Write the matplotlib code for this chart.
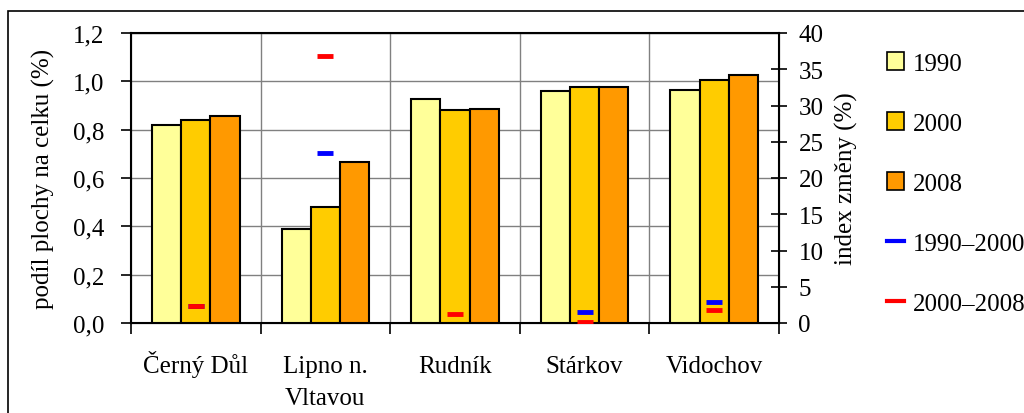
import matplotlib.pyplot as plt
import numpy as np
from matplotlib.patches import Patch, Rectangle
from matplotlib.lines import Line2D

plt.rcParams['font.family'] = ['Liberation Serif', 'DejaVu Serif']

categories = ['Černý Důl', 'Lipno n.\nVltavou', 'Rudník', 'Stárkov', 'Vidochov']
share_1990 = [0.82, 0.39, 0.925, 0.96, 0.965]
share_2000 = [0.84, 0.48, 0.88, 0.975, 1.005]
share_2008 = [0.855, 0.665, 0.885, 0.975, 1.025]
# index zmeny (%) - right axis
idx_1990_2000 = [2.3, 23.4, np.nan, 1.5, 2.9]
idx_2000_2008 = [2.3, 36.8, 1.2, 0.1, 1.8]

c1990 = '#FFFF99'
c2000 = '#FFCC00'
c2008 = '#FF9900'
fs = 18

fig = plt.figure(figsize=(10.24, 4.14), dpi=100)
# outer frame (only top and left visible in the crop)
fig.patches.append(Rectangle((8 / 1024, -0.1), 1.2, 1 - 12 / 414 + 0.1,
                             transform=fig.transFigure, fill=False,
                             edgecolor='black', linewidth=1.2))

ax = fig.add_axes([131 / 1024, 1 - 324 / 414, (779 - 131) / 1024, (324 - 34) / 414])
x = np.arange(len(categories))
w = 0.225
ax.bar(x - w, share_1990, w, color=c1990, edgecolor='black', linewidth=1.5, zorder=3)
ax.bar(x, share_2000, w, color=c2000, edgecolor='black', linewidth=1.5, zorder=3)
ax.bar(x + w, share_2008, w, color=c2008, edgecolor='black', linewidth=1.5, zorder=3)

ax.set_xlim(-0.5, len(categories) - 0.5)
ax.set_ylim(0, 1.2)
yt = np.arange(0, 1.21, 0.2)
ax.set_yticks(yt)
ax.set_yticklabels([('%.1f' % v).replace('.', ',') for v in yt])
ax.yaxis.grid(True, color='#808080', linewidth=1, zorder=0)
for b in np.arange(0.5, len(categories) - 0.5, 1):
    ax.axvline(b, color='#808080', linewidth=1, zorder=0)
ax.set_xticks(np.arange(-0.5, len(categories), 1))
ax.set_xticklabels([])
# category names, line by line on baselines
for i, lab in enumerate(categories):
    for j, line in enumerate(lab.split('\n')):
        ax.text(i, -0.17 - j * 0.11, line, transform=ax.get_xaxis_transform(),
                ha='center', va='baseline', fontsize=fs)
ax.tick_params(axis='x', which='major', length=8, width=1.2, direction='out')
ax.tick_params(axis='y', length=7, width=1.2, direction='out', labelsize=fs, pad=12)
ax.set_ylabel('podíl plochy na celku (%)', fontsize=fs, labelpad=13)
for s in ax.spines.values():
    s.set_linewidth(1.5)

ax2 = ax.twinx()
ax2.set_ylim(0, 40)
ax2.set_yticks(np.arange(0, 41, 5))
ax2.tick_params(axis='y', length=12, width=1.2, direction='inout', labelsize=fs, pad=8)
ax2.set_ylabel('index změny (%)', fontsize=fs, labelpad=8)
ax2.plot(x, idx_1990_2000, linestyle='none', marker='_', markersize=11,
         markeredgewidth=3.5, color='#0000FF', zorder=5)
ax2.plot(x, idx_2000_2008, linestyle='none', marker='_', markersize=11,
         markeredgewidth=3.5, color='#FF0000', zorder=6)

handles = [Patch(facecolor=c1990, edgecolor='black', linewidth=1.2),
           Patch(facecolor=c2000, edgecolor='black', linewidth=1.2),
           Patch(facecolor=c2008, edgecolor='black', linewidth=1.2),
           Line2D([], [], color='#0000FF', linewidth=3),
           Line2D([], [], color='#FF0000', linewidth=3)]
labels = ['1990', '2000', '2008', '1990–2000', '2000–2008']
fig.legend(handles, labels, loc='upper left', bbox_to_anchor=(0.856, 0.895),
           frameon=False, fontsize=fs, handlelength=0.7, handleheight=0.7,
           handletextpad=0.35, labelspacing=1.5, borderaxespad=0)

fig.savefig('out.png', dpi=100)
